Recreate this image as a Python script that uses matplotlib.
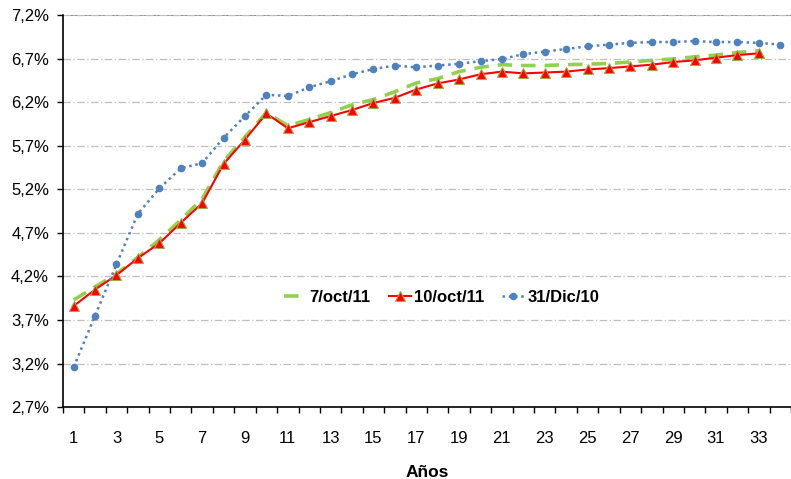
import matplotlib
matplotlib.use('Agg')
import matplotlib.pyplot as plt
from matplotlib.ticker import FixedLocator, FuncFormatter

plt.rcParams['font.family'] = ['Liberation Sans', 'DejaVu Sans']

anios = list(range(1, 35))

oct7 = [3.93, 4.08, 4.23, 4.42, 4.62, 4.85, 5.09, 5.52, 5.80, 6.08,
        5.93, 6.00, 6.08, 6.17, 6.23, 6.32, 6.42, 6.47, 6.55, 6.60,
        6.63, 6.62, 6.62, 6.63, 6.635, 6.645, 6.66, 6.68, 6.695, 6.72,
        6.74, 6.77, 6.79]

oct10 = [3.86, 4.05, 4.215, 4.41, 4.58, 4.815, 5.04, 5.49, 5.77, 6.07,
         5.90, 5.97, 6.04, 6.11, 6.19, 6.25, 6.345, 6.415, 6.46, 6.52,
         6.55, 6.53, 6.54, 6.55, 6.575, 6.59, 6.61, 6.63, 6.66, 6.68,
         6.71, 6.74, 6.76]

dic31 = [3.16, 3.75, 4.34, 4.92, 5.21, 5.44, 5.50, 5.79, 6.04, 6.285,
         6.27, 6.37, 6.44, 6.52, 6.58, 6.62, 6.60, 6.62, 6.64, 6.67,
         6.695, 6.75, 6.78, 6.81, 6.84, 6.86, 6.88, 6.89, 6.89, 6.90,
         6.89, 6.89, 6.88, 6.86]

y_ticks = [2.7, 3.2, 3.7, 4.2, 4.7, 5.2, 5.7, 6.2, 6.7, 7.2]
x_labels = list(range(1, 35, 2))

fig = plt.figure(figsize=(7.91, 4.79), dpi=100)
ax = fig.add_axes([0.0796, 0.150, 0.9204, 0.8187])

ax.plot(anios[:len(oct7)], oct7, color='#92D050', lw=2.6, ls=(0, (4, 2.5)),
        label='7/oct/11', zorder=3)
ax.plot(anios[:len(oct10)], oct10, color='#FF0000', lw=1.5, marker='^',
        markersize=7, markerfacecolor='#FF0000', markeredgecolor='#A5A54A',
        markeredgewidth=0.8, label='10/oct/11', zorder=4)
ax.plot(anios, dic31, color='#4F81BD', lw=1.8, ls=(0, (1, 1.5)), marker='o',
        markersize=5.5, markeredgewidth=0, label='31/Dic/10', zorder=5)

ax.set_xlim(0.5, 34.5)
ax.set_ylim(2.7, 7.2)

ax.yaxis.set_major_locator(FixedLocator(y_ticks))
ax.yaxis.set_major_formatter(FuncFormatter(lambda v, p: f'{v:.1f}'.replace('.', ',') + '%'))
ax.tick_params(axis='y', length=4, width=1, pad=6, labelsize=12, colors='black')
ax.grid(axis='y', color='#BFBFBF', lw=0.9, ls=(0, (6, 2, 1, 2)))
ax.axhline(7.2, color='#808080', lw=1.2, zorder=1)

ax.set_xticks(x_labels)
ax.set_xticklabels([str(v) for v in x_labels])
ax.set_xticks([v + 0.5 for v in range(0, 35)], minor=True)
ax.tick_params(axis='x', which='major', length=0, pad=17, labelsize=12)
ax.tick_params(axis='x', which='minor', length=4, width=1, color='black')

for s in ['top', 'right']:
    ax.spines[s].set_visible(False)
for s in ['left', 'bottom']:
    ax.spines[s].set_linewidth(1.2)

ax.set_xlabel('Años', fontsize=12.5, fontweight='bold', labelpad=14)

ax.legend(loc='center', bbox_to_anchor=(0.52, 0.28), ncol=3, frameon=False,
          prop={'weight': 'bold', 'size': 12},
          handlelength=1.35, handletextpad=0.15, columnspacing=1.1)

fig.savefig('out.png', dpi=100)
